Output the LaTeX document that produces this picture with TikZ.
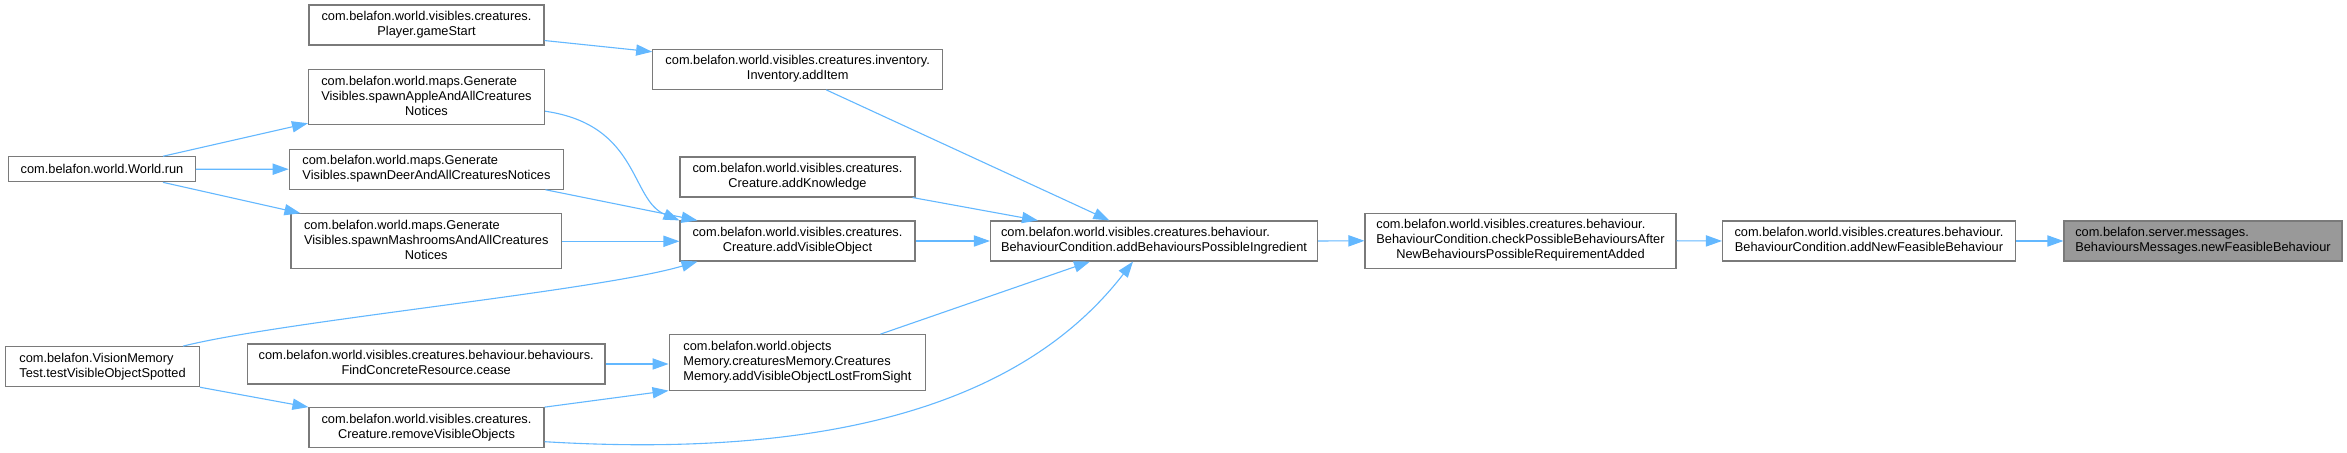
\documentclass[tikz,border=0pt]{standalone}
\usepackage{fontspec}
\setmainfont{Liberation Sans}
\usetikzlibrary{arrows.meta}
\definecolor{edgeblue}{HTML}{63B8FF}
\definecolor{boxline}{HTML}{7A7A7A}
\definecolor{boxgray}{HTML}{999999}
\newcommand\Ltwo[2]{\begin{tabular}{@{}c@{}}\multicolumn{1}{@{}l@{}}{#1}\\#2\end{tabular}}
\newcommand\Lthree[3]{\begin{tabular}{@{}c@{}}\multicolumn{1}{@{}l@{}}{#1}\\\multicolumn{1}{@{}l@{}}{#2}\\#3\end{tabular}}
\begin{document}
\begin{tikzpicture}[x=0.5pt,y=-0.5pt,
  fn/.style={draw=boxline, line width=0.55pt, fill=white, inner sep=0pt, text=black,
    font=\fontsize{6.4}{7.5}\selectfont},
  cl/.style={draw=edgeblue, line width=0.55pt, -{Triangle[length=8pt,width=5.6pt]}, edgeblue}]
\useasboundingbox[fill=white] (0,0) rectangle (2347,453);

\node[fn, minimum width=117.5pt, minimum height=20pt] (player) at (426.5,25)
  {\Ltwo{com.belafon.world.visibles.creatures.}{Player.gameStart}};
\node[fn, minimum width=145pt, minimum height=20pt] (inventory) at (797.7,69.3)
  {\Ltwo{com.belafon.world.visibles.creatures.inventory.}{Inventory.addItem}};
\node[fn, minimum width=118pt, minimum height=27.5pt] (apple) at (426.5,97.2)
  {\Lthree{com.belafon.world.maps.Generate}{Visibles.spawnAppleAndAllCreatures}{Notices}};
\node[fn, minimum width=93.25pt, minimum height=12.5pt] (world) at (102,169.3)
  {com.belafon.world.World.run};
\node[fn, minimum width=137.25pt, minimum height=20pt] (deer) at (426.5,169.2)
  {\Ltwo{com.belafon.world.maps.Generate}{Visibles.spawnDeerAndAllCreaturesNotices}};
\node[fn, minimum width=117.5pt, minimum height=20pt] (know) at (797.5,177)
  {\Ltwo{com.belafon.world.visibles.creatures.}{Creature.addKnowledge}};
\node[fn, minimum width=135.3pt, minimum height=27.5pt] (mash) at (426.3,241.3)
  {\Lthree{com.belafon.world.maps.Generate}{Visibles.spawnMashroomsAndAllCreatures}{Notices}};
\node[fn, minimum width=117.5pt, minimum height=20pt] (addvis) at (797.5,241)
  {\Ltwo{com.belafon.world.visibles.creatures.}{Creature.addVisibleObject}};
\node[fn, minimum width=163.5pt, minimum height=20pt] (addbpi) at (1154,241)
  {\Ltwo{com.belafon.world.visibles.creatures.behaviour.}{BehaviourCondition.addBehavioursPossibleIngredient}};
\node[fn, minimum width=155.5pt, minimum height=27.5pt] (check) at (1520.5,240.8)
  {\Lthree{com.belafon.world.visibles.creatures.behaviour.}{BehaviourCondition.checkPossibleBehavioursAfter}{NewBehavioursPossibleRequirementAdded}};
\node[fn, minimum width=146.5pt, minimum height=20pt] (addnfb) at (1869,241)
  {\Ltwo{com.belafon.world.visibles.creatures.behaviour.}{BehaviourCondition.addNewFeasibleBehaviour}};
\node[fn, fill=boxgray, minimum width=139pt, minimum height=20pt] (newfb) at (2203,241)
  {\Ltwo{com.belafon.server.messages.}{BehavioursMessages.newFeasibleBehaviour}};
\node[fn, minimum width=97pt, minimum height=20pt] (vision) at (102.5,366.7)
  {\Ltwo{com.belafon.VisionMemory}{Test.testVisibleObjectSpotted}};
\node[fn, minimum width=178.8pt, minimum height=20pt] (cease) at (426.2,364)
  {\Ltwo{com.belafon.world.visibles.creatures.behaviour.behaviours.}{FindConcreteResource.cease}};
\node[fn, minimum width=128.3pt, minimum height=27.7pt] (objmem) at (797.4,362.4)
  {\Lthree{com.belafon.world.objects}{Memory.creaturesMemory.Creatures}{Memory.addVisibleObjectLostFromSight}};
\node[fn, minimum width=117.5pt, minimum height=20pt] (remove) at (426.5,427.7)
  {\Ltwo{com.belafon.world.visibles.creatures.}{Creature.removeVisibleObjects}};

\draw[cl] ([yshift=2.5pt]player.south east) -- ([yshift=-1.5pt]inventory.north west);
\draw[cl] ([xshift=14.25pt]inventory.south) -- ([xshift=-22.3pt]addbpi.north);
\draw[cl] ([yshift=-7pt]apple.east) .. controls (640,125) and (630,200) .. (addvis.north west);
\draw[cl] ([xshift=59.5pt]deer.south) -- ([xshift=-50pt]addvis.north);
\draw[cl] (mash.east) -- (mash.east -| addvis.west);
\draw[cl] ([xshift=40.25pt]vision.north) .. controls (283,321) and (598,291) .. ([xshift=-50pt]addvis.south);
\draw[cl] ([xshift=-1.5pt]know.south east) -- ([xshift=-58pt]addbpi.north);
\draw[cl] (addvis.east) -- (addbpi.west);
\draw[cl] ([xshift=41.5pt]objmem.north) -- ([xshift=-32pt]addbpi.south);
\draw[cl] ([yshift=-7pt]remove.east) .. controls (850,460) and (1030,395) .. ([xshift=-10.5pt]addbpi.south);
\draw[cl] ([xshift=30.5pt]world.north) -- ([yshift=1pt]apple.south west);
\draw[cl] (world.east) -- (deer.west);
\draw[cl] ([xshift=30.5pt]world.south) -- ([xshift=5pt]mash.north west);
\draw[cl] (cease.east) -- (cease.east -| objmem.west);
\draw[cl] (vision.south east) -- (remove.north west);
\draw[cl] (remove.north east) -- (objmem.south west);
\draw[cl] (addbpi.east) -- (check.west);
\draw[cl] (check.east) -- (addnfb.west);
\draw[cl] (addnfb.east) -- (newfb.west);
\end{tikzpicture}
\end{document}
